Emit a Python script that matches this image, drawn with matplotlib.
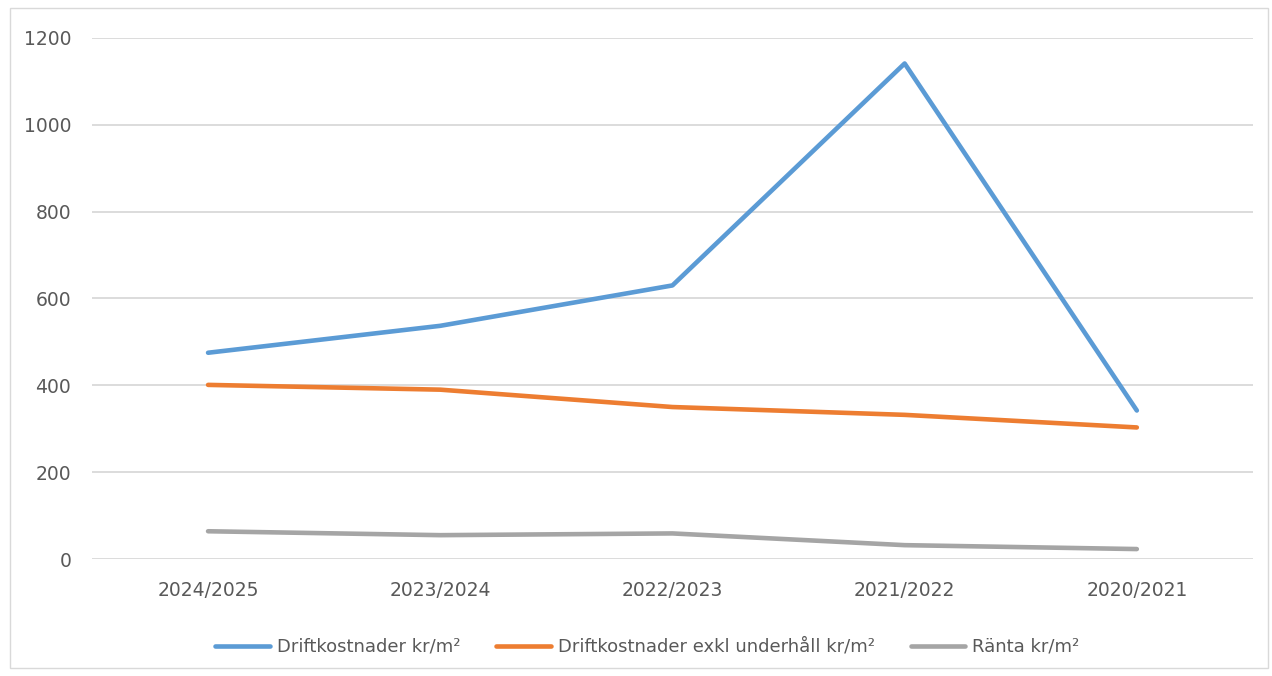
import matplotlib.pyplot as plt
from matplotlib.patches import Rectangle

# Data
years = ['2024/2025', '2023/2024', '2022/2023', '2021/2022', '2020/2021']
drift = [475, 537, 630, 1141, 342]
drift_exkl = [401, 390, 350, 332, 303]
ranta = [64, 55, 59, 32, 23]

labels = ['Driftkostnader kr/m²', 'Driftkostnader exkl underhåll kr/m²', 'Ränta kr/m²']
colors = ['#5B9BD5', '#ED7D31', '#A5A5A5']

fig = plt.figure(figsize=(12.72, 6.76), dpi=100)
ax = fig.add_axes([0.0723, 0.173, 0.9127, 0.771])

x = range(len(years))
for series, lab, col in zip([drift, drift_exkl, ranta], labels, colors):
    ax.plot(x, series, color=col, lw=3.3, label=lab, solid_capstyle='round')

ax.set_xlim(-0.5, len(years) - 0.5)
ax.set_ylim(0, 1200)
ax.set_yticks(range(0, 1201, 200))
ax.set_xticks(list(x))
ax.set_xticklabels(years)
ax.grid(axis='y', color='#D9D9D9', lw=1.3)
ax.set_axisbelow(True)
for s in ax.spines.values():
    s.set_visible(False)
ax.tick_params(length=0, labelsize=13.5, colors='#595959')
ax.tick_params(axis='y', pad=15)
ax.tick_params(axis='x', pad=16)

fig.legend(loc='center', bbox_to_anchor=(0.509, 0.043), ncol=3, frameon=False,
           handlelength=3.0, columnspacing=2.0, handletextpad=0.4,
           prop={'size': 13}, labelcolor='#595959')

fig.patches.append(Rectangle((10 / 1272, 8 / 676), 1258 / 1272, 660 / 676,
                             transform=fig.transFigure, fill=False,
                             edgecolor='#D9D9D9', lw=1))

fig.savefig('out.png', dpi=100)
